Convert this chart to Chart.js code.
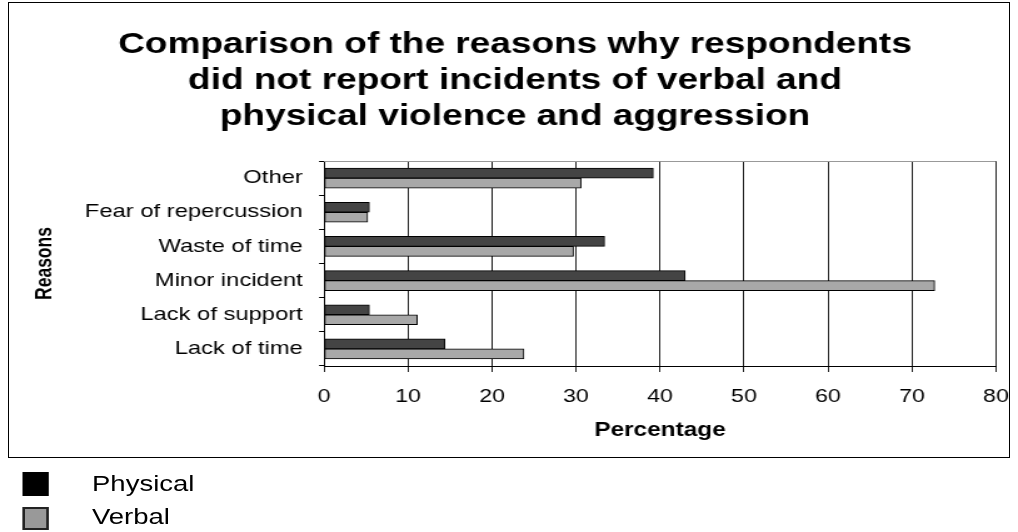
<!DOCTYPE html>
<html lang="en">
<head>
<meta charset="UTF-8">
<title>Reasons for not reporting incidents</title>
<script src="https://cdn.jsdelivr.net/npm/chart.js"></script>
<style>
  body { margin: 0; background: #fff; font-family: "Liberation Sans", Arial, sans-serif; }
  #frame { position: absolute; left: 8px; top: 2px; width: 1000px; height: 454px; border: 1px solid #000; }
  /* the original picture is stretched sideways, so draw narrow and widen */
  #wrap { position: absolute; left: 0; top: 0; width: 814px; height: 460px; transform: scaleX(1.2506); transform-origin: 0 0; }
  #legend { position: absolute; left: 0; top: 0; width: 814px; height: 532px; transform: scaleX(1.25); transform-origin: 0 0; }
  .sw { position: absolute; left: 18.4px; width: 20.8px; height: 24px; box-sizing: border-box; }
  .lbl { position: absolute; left: 73.6px; font-size: 22px; line-height: 26px; color: #000; }
</style>
</head>
<body>
<div id="frame"></div>
<div id="wrap">
  <canvas id="reasonsChart" width="814" height="460"></canvas>
</div>
<div id="legend">
  <div class="sw" style="top:472px; background:#000;"></div>
  <div class="lbl" style="top:471px;">Physical</div>
  <div class="sw" style="top:507px; height:23px; background:#999; border:2px solid #222;"></div>
  <div class="lbl" style="top:504px;">Verbal</div>
</div>

<script>
  const reasons = ['Other', 'Fear of repercussion', 'Waste of time', 'Minor incident', 'Lack of support', 'Lack of time'];
  const physical = [39.2, 5.4, 33.4, 43.0, 5.4, 14.4];
  const verbal = [30.6, 5.2, 29.7, 72.7, 11.1, 23.8];
  const xTicks = [0, 10, 20, 30, 40, 50, 60, 70, 80];
  const titleLines = ['Comparison of the reasons why respondents', 'did not report incidents of verbal and', 'physical violence and aggression'];

  const FONT = '"Liberation Sans", Arial, sans-serif';

  // thin grey line along the top of the plot area
  const topLine = {
    id: 'topLine',
    beforeDatasetsDraw(chart) {
      const { ctx, chartArea: a } = chart;
      ctx.save();
      ctx.strokeStyle = '#999';
      ctx.lineWidth = 1;
      ctx.beginPath();
      ctx.moveTo(a.left, a.top + 0.5);
      ctx.lineTo(a.right, a.top + 0.5);
      ctx.stroke();
      ctx.restore();
    }
  };

  new Chart(document.getElementById('reasonsChart'), {
    type: 'bar',
    data: {
      labels: reasons,
      datasets: [
        { label: 'Physical', data: physical, backgroundColor: '#444', borderColor: '#000', borderWidth: 1, borderSkipped: false, barThickness: 10 },
        { label: 'Verbal', data: verbal, backgroundColor: '#a8a8a8', borderColor: '#000', borderWidth: 1, borderSkipped: false, barThickness: 10 }
      ]
    },
    options: {
      indexAxis: 'y',
      responsive: false,
      animation: false,
      devicePixelRatio: 1,
      layout: { padding: { left: 27.2, right: 17.6, top: 0, bottom: 0 } },
      plugins: {
        legend: { display: false },
        tooltip: { enabled: false },
        title: {
          display: true,
          text: titleLines,
          color: '#000',
          font: { family: FONT, size: 29.6, weight: 'bold', lineHeight: '36px' },
          padding: { top: 27, bottom: 26 }
        }
      },
      scales: {
        x: {
          min: 0,
          max: 80,
          afterBuildTicks(scale) { scale.ticks = xTicks.map(v => ({ value: v })); },
          afterFit(scale) {
            scale.height = 94;
            scale.paddingLeft = 0;
            scale.paddingRight = 0;
          },
          grid: { color: '#222', lineWidth: 1, tickLength: 6 },
          border: { display: true, color: '#000', width: 1 },
          ticks: { color: '#000', padding: 14, font: { family: FONT, size: 18.5 } },
          title: {
            display: true,
            text: 'Percentage',
            color: '#000',
            font: { family: FONT, size: 19.5, weight: 'bold' },
            padding: { top: 0, bottom: 18 }
          }
        },
        y: {
          afterFit(scale) { scale.width = 231.9; },
          grid: { drawOnChartArea: false, drawTicks: true, tickLength: 4, color: '#000' },
          border: { display: true, color: '#000', width: 1 },
          ticks: { color: '#000', padding: 13, font: { family: FONT, size: 19 } },
          title: {
            display: true,
            text: 'Reasons',
            color: '#000',
            font: { family: FONT, size: 17.5, weight: 'bold', lineHeight: 1 },
            padding: 0
          }
        }
      }
    },
    plugins: [topLine]
  });
</script>
</body>
</html>
